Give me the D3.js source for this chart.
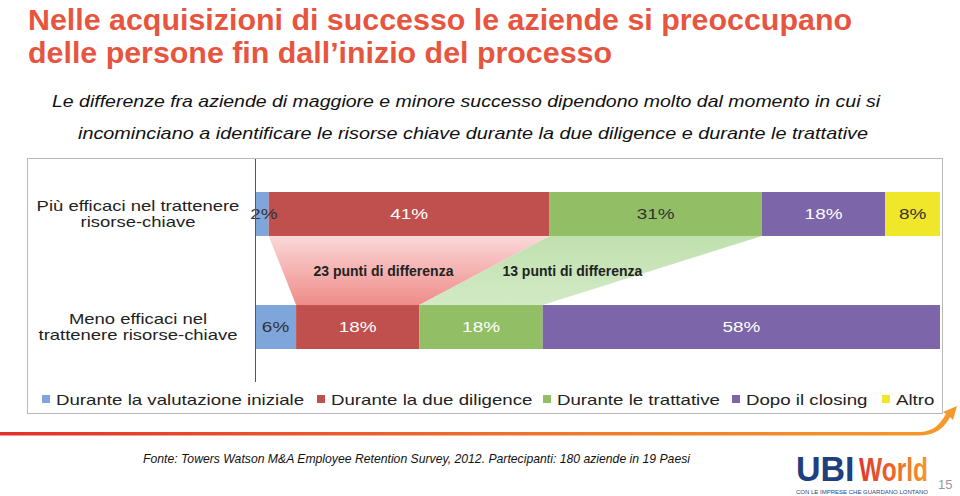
<!DOCTYPE html>
<html><head><meta charset="utf-8">
<script src="https://cdn.jsdelivr.net/npm/d3@7"></script>
<style>
html,body{margin:0;padding:0;background:#fff;}
svg{display:block;}
</style></head>
<body>
<svg id="chart" width="960" height="496"></svg>
<script>
// ---------- DATA ----------
const titleLines = ["Nelle acquisizioni di successo le aziende si preoccupano", "delle persone fin dall\u2019inizio del processo"];
const subtitleLines = ["Le differenze fra aziende di maggiore e minore successo dipendono molto dal momento in cui si", "incominciano a identificare le risorse chiave durante la due diligence e durante le trattative"];
const categories = ["Durante la valutazione iniziale", "Durante la due diligence", "Durante le trattative", "Dopo il closing", "Altro"];
const rowLabels = [["Più efficaci nel trattenere", "risorse-chiave"], ["Meno efficaci nel", "trattenere risorse-chiave"]];
const moreEffective = [2, 41, 31, 18, 8];
const lessEffective = [6, 18, 18, 58, 0];
const differences = [{seg: 1, label: "23 punti di differenza"}, {seg: 2, label: "13 punti di differenza"}];
const source = "Fonte: Towers Watson M&A Employee Retention Survey, 2012. Partecipanti: 180 aziende in 19 Paesi";
const pageNumber = "15";

// ---------- STYLE ----------
const colors = ["#7ea6da", "#c0504d", "#92bf66", "#7c65a8", "#f0e62a"];
const labelColorsTop = ["#333", "#fff", "#333", "#fff", "#333"];
const labelColorsBottom = ["#333", "#fff", "#fff", "#fff", "#333"];
const sans = "'Liberation Sans',Arial,Helvetica,sans-serif";

const svg = d3.select("#chart");
const defs = svg.append("defs");

// stretch text horizontally (wide Helvetica-like glyphs of the original)
function stretch(sel, factor) {
  sel.each(function () {
    const len = this.getComputedTextLength();
    d3.select(this).attr("textLength", len * factor).attr("lengthAdjust", "spacingAndGlyphs");
  });
  return sel;
}

// ---------- TITLE ----------
const titleSpan = [[28, 852], [28, 612]];
svg.selectAll("text.title").data(titleLines).join("text")
  .attr("class", "title")
  .attr("x", (d, i) => titleSpan[i][0])
  .attr("y", (d, i) => 30 + i * 32.5)
  .attr("textLength", (d, i) => titleSpan[i][1] - titleSpan[i][0])
  .attr("lengthAdjust", "spacingAndGlyphs")
  .style("font-family", sans)
  .style("font-weight", "bold").style("font-size", "29px")
  .style("fill", "#e8553f")
  .text(d => d);

const subSpan = [[52, 880], [78, 868]];
svg.selectAll("text.sub").data(subtitleLines).join("text")
  .attr("class", "sub")
  .attr("x", (d, i) => subSpan[i][0])
  .attr("y", (d, i) => 107 + i * 32)
  .attr("textLength", (d, i) => subSpan[i][1] - subSpan[i][0])
  .attr("lengthAdjust", "spacingAndGlyphs")
  .style("font-family", sans)
  .style("font-style", "italic").style("font-size", "17px")
  .style("fill", "#111")
  .text(d => d);

// ---------- FRAME ----------
svg.append("rect").attr("x", 27.5).attr("y", 158.5).attr("width", 915).attr("height", 255)
  .attr("fill", "none").attr("stroke", "#b9b9b9").attr("stroke-width", 1);

// ---------- SCALES ----------
const x = d3.scaleLinear().domain([0, 100]).range([255, 940]);
const y = d3.scaleBand().domain([0, 1]).range([192, 349]).paddingInner(0.611).paddingOuter(0);
const rows = [moreEffective, lessEffective];

function stackRow(vals) {
  let acc = 0;
  return vals.map((v, i) => { const s = acc; acc += v; return {i, v, x0: s, x1: acc}; });
}
const stacked = rows.map(stackRow);

// ---------- FUNNELS ----------
differences.forEach((d, k) => {
  const gid = "grad" + k;
  const g = defs.append("linearGradient").attr("id", gid).attr("x1", 0).attr("y1", 0).attr("x2", 0).attr("y2", 1);
  const stops = k === 0 ? [["0%", "#fad8d8"], ["100%", "#ef8c89"]] : [["0%", "#c0e0ae"], ["100%", "#d2eac5"]];
  stops.forEach(s => g.append("stop").attr("offset", s[0]).attr("stop-color", s[1]));
  const t = stacked[0][d.seg], b = stacked[1][d.seg];
  const yTop = y(0) + y.bandwidth(), yBot = y(1);
  const pts = [[x(t.x0), yTop], [x(t.x1), yTop], [x(b.x1), yBot], [x(b.x0), yBot]];
  svg.append("polygon").attr("points", pts.map(p => p.join(",")).join(" "))
    .attr("fill", `url(#${gid})`);
  const cx = (x(t.x0) + x(t.x1) + x(b.x0) + x(b.x1)) / 4;
  svg.append("text").attr("x", cx + (k === 1 ? 4 : 0)).attr("y", (yTop + yBot) / 2 + 5)
    .attr("text-anchor", "middle")
    .style("font-family", sans).style("font-weight", "bold").style("font-size", "14px")
    .style("fill", "#222").text(d.label);
});

// ---------- BARS ----------
stacked.forEach((row, r) => {
  const g = svg.append("g");
  g.selectAll("rect").data(row.filter(d => d.v > 0)).join("rect")
    .attr("x", d => x(d.x0)).attr("width", d => x(d.x1) - x(d.x0))
    .attr("y", y(r)).attr("height", y.bandwidth())
    .attr("fill", d => colors[d.i]);
  const t = g.selectAll("text").data(row.filter(d => d.v > 0)).join("text")
    .attr("x", d => (x(d.x0) + x(d.x1)) / 2 + (d.v < 3 ? 2 : 0))
    .attr("y", y(r) + y.bandwidth() / 2)
    .attr("dy", "0.36em")
    .attr("text-anchor", "middle")
    .style("font-family", sans).style("font-size", "15px")
    .style("fill", d => (r === 0 ? labelColorsTop : labelColorsBottom)[d.i])
    .text(d => d.v + "%");
  stretch(t, 1.26);
});

// vertical axis line
svg.append("line").attr("x1", 255.5).attr("x2", 255.5).attr("y1", 159).attr("y2", 382)
  .attr("stroke", "#555").attr("stroke-width", 1);

// row labels
const rowOffsets = [-3, 13];
rowLabels.forEach((lines, r) => {
  lines.forEach((l, j) => {
    const t = svg.append("text").attr("text-anchor", "middle")
      .attr("x", 138).attr("y", y(r) + y.bandwidth() / 2 + rowOffsets[j])
      .style("font-family", sans).style("font-size", "15px")
      .style("fill", "#222").text(l);
    stretch(t, 1.23);
  });
});

// ---------- LEGEND ----------
const legendX = [42, 317, 543, 732, 882];
const lg = svg.append("g");
categories.forEach((c, i) => {
  lg.append("rect").attr("x", legendX[i]).attr("y", 395).attr("width", 8).attr("height", 8).attr("fill", colors[i]);
  const t = lg.append("text").attr("x", legendX[i] + 14).attr("y", 405)
    .style("font-family", sans).style("font-size", "15px")
    .style("fill", "#222").text(c);
  stretch(t, 1.245);
});

// ---------- FOOTER ----------
const fg = defs.append("linearGradient").attr("id", "stripe").attr("x1", 0).attr("x2", 1).attr("y1", 0).attr("y2", 0);
[["0%", "#e3302c"], ["60%", "#ee7a2e"], ["100%", "#f59a2a"]].forEach(s => fg.append("stop").attr("offset", s[0]).attr("stop-color", s[1]));
svg.append("path")
  .attr("d", "M0,432 L918,432 C934,432 940,424 946,414 L943,412 L957,406 L953,420 L950,417 C944,428 936,435.5 918,435.5 L0,435.5 Z")
  .attr("fill", "url(#stripe)");

svg.append("text").attr("x", 143).attr("y", 463).attr("textLength", 547).attr("lengthAdjust", "spacingAndGlyphs")
  .style("font-family", sans).style("font-style", "italic")
  .style("font-size", "13.5px").style("fill", "#111").text(source);

// logo
const wg = defs.append("linearGradient").attr("id", "worldg").attr("x1", 0).attr("x2", 1).attr("y1", 0).attr("y2", 0);
[["0%", "#e2362b"], ["100%", "#f39a2c"]].forEach(s => wg.append("stop").attr("offset", s[0]).attr("stop-color", s[1]));
svg.append("text").attr("transform", "translate(796,481) scale(1,1.05)")
  .style("font-family", sans).style("font-weight", "bold").style("font-size", "34px").style("fill", "#1f3f80").text("UBI");
svg.append("text").attr("transform", "translate(859,481) scale(1,1.38)")
  .style("font-family", sans).style("font-weight", "bold").style("font-size", "24.5px").style("fill", "url(#worldg)").text("World");
svg.append("text").attr("x", 796).attr("y", 494).attr("textLength", 132).attr("lengthAdjust", "spacingAndGlyphs")
  .style("font-family", sans).style("font-size", "6px").style("fill", "#1f3f80").text("CON LE IMPRESE CHE GUARDANO LONTANO");
svg.append("text").attr("x", 938).attr("y", 489)
  .style("font-family", sans).style("font-size", "13px").style("fill", "#999").text(pageNumber);
</script>
</body></html>
